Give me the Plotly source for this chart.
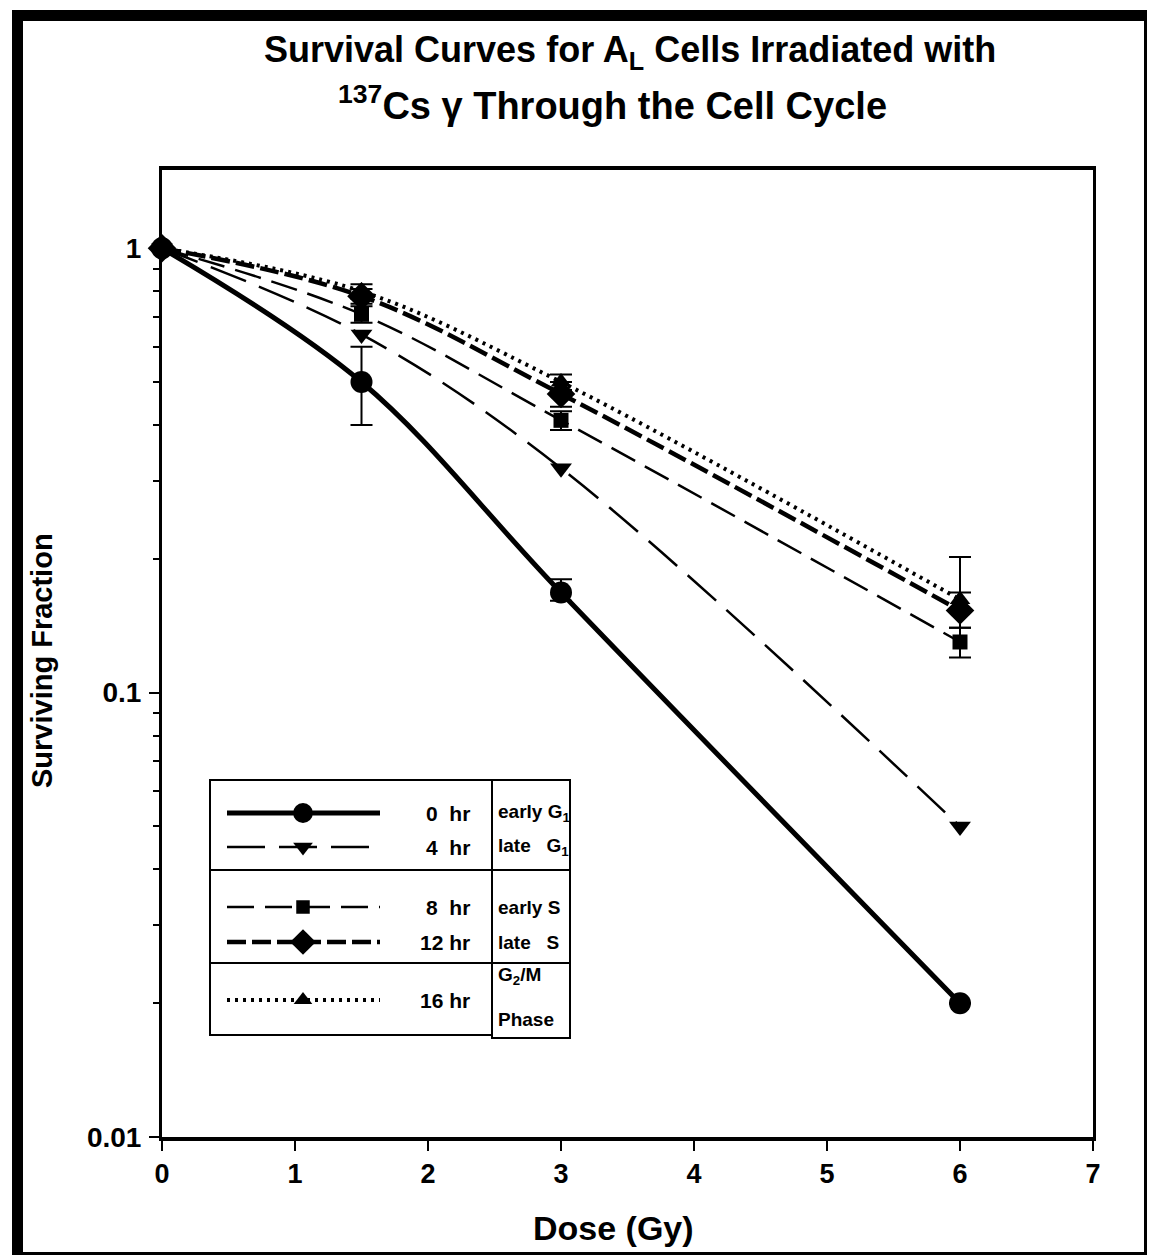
import math
import plotly.graph_objects as go

# ---- data -------------------------------------------------------------
dose = [0, 1.5, 3, 6]

sf_0hr = [1.0, 0.50, 0.168, 0.020]
sf_4hr = [1.0, 0.64, 0.32, 0.050]
sf_8hr = [1.0, 0.71, 0.41, 0.130]
sf_12hr = [1.0, 0.78, 0.47, 0.153]
sf_16hr = [1.0, 0.80, 0.50, 0.162]

err_0hr_up = [0, 0.10, 0.012, 0]
err_0hr_dn = [0, 0.10, 0.007, 0]
err_8hr_up = [0, 0.03, 0.02, 0.010]
err_8hr_dn = [0, 0.03, 0.02, 0.010]
err_12hr_up = [0, 0.03, 0.03, 0.015]
err_12hr_dn = [0, 0.03, 0.03, 0.013]
err_16hr_up = [0, 0.03, 0.02, 0.040]
err_16hr_dn = [0, 0.03, 0.02, 0.010]

x_ticks = [0, 1, 2, 3, 4, 5, 6, 7]
y_ticks = [0.01, 0.1, 1]
y_tick_text = ["0.01", "0.1", "1"]

series_labels = ["0\u00a0\u00a0hr", "4\u00a0\u00a0hr", "8\u00a0\u00a0hr", "12\u00a0hr", "16\u00a0hr"]
phase_labels = ["early\u00a0G<sub>1</sub>", "late\u00a0\u00a0\u00a0G<sub>1</sub>",
                "early\u00a0S", "late\u00a0\u00a0\u00a0S", "G<sub>2</sub>/M", "Phase"]

# ---- geometry (pixels) -------------------------------------------------
W, H = 1149, 1257
L, R, T, B = 162, 1093, 170, 1137   # plot area edges
FONT = "Liberation Sans, Arial, sans-serif"


def px(x):
    return (x - L) / (R - L)


def py(y):
    return (B - y) / (B - T)


styles = {
    "0hr": dict(line=dict(color="black", width=5), marker=dict(symbol="circle", size=22)),
    "4hr": dict(line=dict(color="black", width=2.5, dash="38px,14px"), marker=dict(symbol="triangle-down", size=19)),
    "8hr": dict(line=dict(color="black", width=2.5, dash="27px,11px"), marker=dict(symbol="square", size=15)),
    "12hr": dict(line=dict(color="black", width=4.5, dash="19px,6px"), marker=dict(symbol="diamond", size=22)),
    "16hr": dict(line=dict(color="black", width=4, dash="3px,5px"), marker=dict(symbol="triangle-up", size=18)),
}

fig = go.Figure()


def add_series(key, y, up=None, dn=None):
    st = styles[key]
    err = None
    if up is not None:
        err = dict(type="data", array=up, arrayminus=dn, symmetric=False,
                   color="black", thickness=2, width=11)
    fig.add_trace(go.Scatter(
        x=dose, y=y, mode="lines+markers", line=dict(shape="spline", smoothing=1.0, **st["line"]),
        marker=dict(color="black", opacity=1, **st["marker"]), error_y=err, showlegend=False,
        cliponaxis=False))


add_series("16hr", sf_16hr, err_16hr_up, err_16hr_dn)
add_series("12hr", sf_12hr, err_12hr_up, err_12hr_dn)
add_series("8hr", sf_8hr, err_8hr_up, err_8hr_dn)
add_series("4hr", sf_4hr)
add_series("0hr", sf_0hr, err_0hr_up, err_0hr_dn)

# ---- legend table drawn on a pixel-scaled overlay axis -----------------
row_y = [813, 847, 907, 942, 1000]
keys = ["0hr", "4hr", "8hr", "12hr", "16hr"]
for key, ry in zip(keys, row_y):
    st = styles[key]
    fig.add_trace(go.Scatter(
        x=[227, 380], y=[ry, ry], xaxis="x2", yaxis="y2", mode="lines",
        line=st["line"], showlegend=False, hoverinfo="skip"))
    fig.add_trace(go.Scatter(
        x=[303], y=[ry], xaxis="x2", yaxis="y2", mode="markers",
        marker=dict(color="black", opacity=1, symbol=st["marker"]["symbol"],
                    size=st["marker"]["size"] * 0.9, line=dict(width=0)),
        showlegend=False, hoverinfo="skip"))

shapes = []
cells = [(210, 492, 780, 870), (210, 492, 870, 963), (210, 492, 963, 1035),
         (492, 570, 780, 870), (492, 570, 870, 963), (492, 570, 963, 1038)]
for x0, x1, y0, y1 in cells:
    shapes.append(dict(type="rect", xref="x2", yref="y2", x0=x0, x1=x1, y0=y0, y1=y1,
                       line=dict(color="black", width=2), fillcolor="rgba(0,0,0,0)"))

annotations = []
for lab, ry in zip(series_labels, row_y):
    annotations.append(dict(xref="x2", yref="y2", x=472, y=ry, text=f"<b>{lab}</b>", showarrow=False,
                            xanchor="right", yanchor="middle",
                            font=dict(family=FONT, size=21, color="black")))
phase_y = [813, 847, 907, 942, 976, 1019]
for lab, ry in zip(phase_labels, phase_y):
    annotations.append(dict(xref="x2", yref="y2", x=496, y=ry, text=f"<b>{lab}</b>", showarrow=False,
                            xanchor="left", yanchor="middle",
                            font=dict(family=FONT, size=19, color="black")))

# ---- titles ------------------------------------------------------------
annotations.append(dict(xref="paper", yref="paper", x=px(630), y=py(52),
                        text="<b>Survival Curves for A<sub>L</sub> Cells Irradiated with</b>",
                        showarrow=False, xanchor="center", yanchor="middle",
                        font=dict(family=FONT, size=36, color="black")))
annotations.append(dict(xref="paper", yref="paper", x=px(612), y=py(103),
                        text="<b><sup>137</sup>Cs \u03b3 Through the Cell Cycle</b>",
                        showarrow=False, xanchor="center", yanchor="middle",
                        font=dict(family=FONT, size=38, color="black")))
annotations.append(dict(xref="paper", yref="paper", x=px(613), y=py(1228),
                        text="<b>Dose (Gy)</b>", showarrow=False,
                        xanchor="center", yanchor="middle",
                        font=dict(family=FONT, size=34, color="black")))
annotations.append(dict(xref="paper", yref="paper", x=px(42), y=py(660),
                        text="<b>Surviving Fraction</b>", showarrow=False, textangle=-90,
                        xanchor="center", yanchor="middle",
                        font=dict(family=FONT, size=29, color="black")))

# ---- outer page frame: heavy top/left, thin bottom/right ----------------
frame = [
    (12, 23, 10, 1255),
    (12, 1147, 10, 21),
    (1144, 1147, 10, 1255),
    (12, 1147, 1252, 1255),
]
for x0, x1, y0, y1 in frame:
    shapes.append(dict(type="rect", xref="paper", yref="paper",
                       x0=px(x0), x1=px(x1), y0=py(y0), y1=py(y1),
                       line=dict(width=0), fillcolor="black", layer="above"))

minor_vals = [k * 10 ** e for e in (-2, -1) for k in range(2, 10)]

fig.update_layout(
    width=W, height=H,
    margin=dict(l=L, r=W - R, t=T, b=H - B, pad=0),
    paper_bgcolor="white", plot_bgcolor="white",
    font=dict(family=FONT, color="black"),
    shapes=shapes, annotations=annotations,
    xaxis=dict(range=[0, 7], tickvals=x_ticks, ticktext=[f"<b>{v}</b>" for v in x_ticks],
               ticks="outside", ticklen=10, tickwidth=2, tickcolor="black",
               showline=True, linewidth=3.5, linecolor="black", mirror=True,
               showgrid=False, zeroline=False, ticklabelstandoff=0,
               tickfont=dict(family=FONT, size=27, color="black")),
    yaxis=dict(type="log", range=[-2, math.log10(1.5)], tickvals=y_ticks,
               ticktext=[f"<b>{t}</b>" for t in y_tick_text],
               ticks="outside", ticklen=10, tickwidth=2, tickcolor="black",
               minor=dict(tickvals=minor_vals, ticks="outside", ticklen=6, tickwidth=2,
                          tickcolor="black", showgrid=False),
               showline=True, linewidth=3, linecolor="black", mirror=True,
               showgrid=False, zeroline=False, ticklabelstandoff=2,
               tickfont=dict(family=FONT, size=28, color="black")),
    xaxis2=dict(range=[L, R], overlaying="x", anchor="y2", visible=False, fixedrange=True),
    yaxis2=dict(range=[B, T], overlaying="y", anchor="x2", visible=False, fixedrange=True),
)

fig.write_html("out.html")
